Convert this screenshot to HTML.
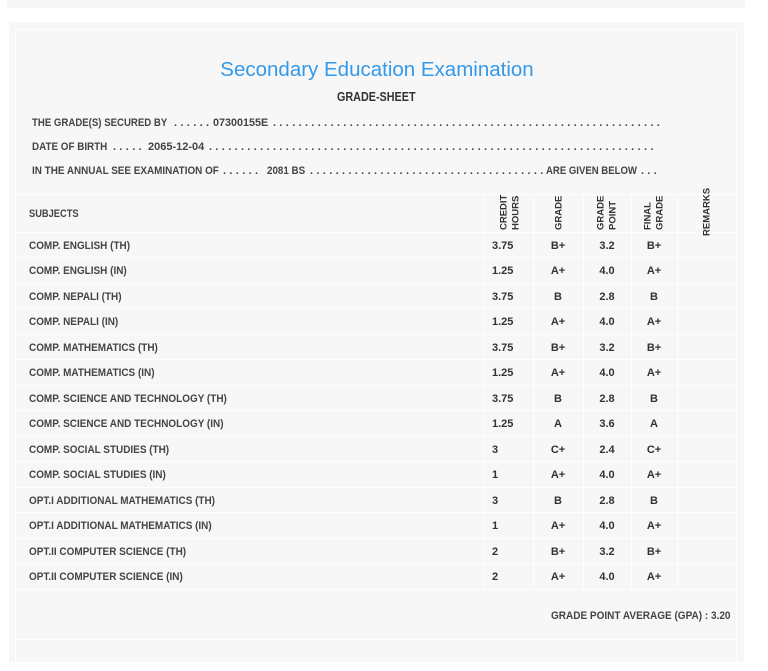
<!DOCTYPE html>
<html>
<head>
<meta charset="utf-8">
<style>
html,body{margin:0;padding:0;background:#fff;}
body{width:768px;height:651px;overflow:hidden;position:relative;font-family:"Liberation Sans",sans-serif;color:#333;}
.a{position:absolute;}
.t{position:absolute;font-size:11px;line-height:12px;font-weight:bold;white-space:pre;color:#444;transform-origin:0 0;}
.d{letter-spacing:3.34px;transform:none;}
.s{transform:scaleX(0.905);}
.n{position:absolute;font-size:11px;line-height:12px;font-weight:bold;white-space:pre;color:#333;}
.c{transform:translateX(-50%);}
.h{position:absolute;left:15px;width:722px;height:1px;background:#fff;}
.v{position:absolute;top:194px;width:1px;height:395px;background:#fff;}
</style>
</head>
<body>
<div class="a" style="left:7px;top:0;width:738px;height:8px;background:#f7f7f7"></div>
<div class="a" style="left:9px;top:22px;width:735px;height:640px;background:#f7f7f7"></div>
<div class="a" style="left:15px;top:29px;width:720px;height:640px;border:1px solid #fff"></div>

<div class="a" style="left:0;width:754px;top:58px;text-align:center;font-size:20.5px;line-height:24px;color:#3399ea;white-space:pre">Secondary Education Examination</div>
<div class="a" style="left:337px;top:90px;font-size:13px;line-height:14px;font-weight:bold;color:#333;white-space:pre;transform:scaleX(0.83);transform-origin:0 0">GRADE-SHEET</div>

<!-- info lines -->
<div class="t" style="left:32px;top:117px;transform:scaleX(0.875)">THE GRADE(S) SECURED BY</div>
<div class="t d" style="left:174px;top:117px">......</div>
<div class="t" style="left:213px;top:117px;transform:scaleX(0.98)">07300155E</div>
<div class="t d" style="left:273px;top:117px">.............................................................</div>

<div class="t" style="left:32px;top:141px;transform:scaleX(0.895)">DATE OF BIRTH</div>
<div class="t d" style="left:113px;top:141px">.....</div>
<div class="t" style="left:148px;top:141px;transform:scaleX(1.0)">2065-12-04</div>
<div class="t d" style="left:209px;top:141px">......................................................................</div>

<div class="t" style="left:32px;top:165px;transform:scaleX(0.9)">IN THE ANNUAL SEE EXAMINATION OF</div>
<div class="t d" style="left:223px;top:165px">......</div>
<div class="t" style="left:267px;top:165px;transform:scaleX(0.89)">2081 BS</div>
<div class="t d" style="left:310px;top:165px">.....................................</div>
<div class="t" style="left:546px;top:165px;transform:scaleX(0.87)">ARE GIVEN BELOW</div>
<div class="t d" style="left:641px;top:165px">...</div>

<!-- table lines -->
<div class="h" style="top:194px"></div>
<div class="h" style="top:232px"></div>
<div class="h" style="top:257px"></div>
<div class="h" style="top:283px"></div>
<div class="h" style="top:308px"></div>
<div class="h" style="top:334px"></div>
<div class="h" style="top:359px"></div>
<div class="h" style="top:385px"></div>
<div class="h" style="top:410px"></div>
<div class="h" style="top:436px"></div>
<div class="h" style="top:461px"></div>
<div class="h" style="top:487px"></div>
<div class="h" style="top:512px"></div>
<div class="h" style="top:538px"></div>
<div class="h" style="top:563px"></div>
<div class="h" style="top:589px"></div>
<div class="h" style="top:639px"></div>
<div class="v" style="left:484px"></div>
<div class="v" style="left:533px"></div>
<div class="v" style="left:583px"></div>
<div class="v" style="left:631px"></div>
<div class="v" style="left:677px"></div>

<div class="t" style="left:29px;top:208px;transform:scaleX(0.845)">SUBJECTS</div>

<svg class="a" style="left:0;top:0" width="768" height="651" xmlns="http://www.w3.org/2000/svg">
<g font-family="Liberation Sans, sans-serif" font-weight="bold" font-size="9.5" fill="#333">
<text transform="translate(506.5,230) rotate(-90)">CREDIT</text>
<text transform="translate(518.5,230) rotate(-90)">HOURS</text>
<text transform="translate(561.5,230) rotate(-90)">GRADE</text>
<text transform="translate(603.5,230) rotate(-90)">GRADE</text>
<text transform="translate(615.5,230) rotate(-90)">POINT</text>
<text transform="translate(650.5,230) rotate(-90)">FINAL</text>
<text transform="translate(662.5,230) rotate(-90)">GRADE</text>
<text transform="translate(709.5,236) rotate(-90)">REMARKS</text>
</g>
</svg>

<!-- rows -->
<div class="t s" style="left:29px;top:240px">COMP. ENGLISH (TH)</div>
<div class="n" style="left:492px;top:240px">3.75</div><div class="n c" style="left:558px;top:240px">B+</div><div class="n c" style="left:607px;top:240px">3.2</div><div class="n c" style="left:654px;top:240px">B+</div>

<div class="t s" style="left:29px;top:265px">COMP. ENGLISH (IN)</div>
<div class="n" style="left:492px;top:265px">1.25</div><div class="n c" style="left:558px;top:265px">A+</div><div class="n c" style="left:607px;top:265px">4.0</div><div class="n c" style="left:654px;top:265px">A+</div>

<div class="t s" style="left:29px;top:291px">COMP. NEPALI (TH)</div>
<div class="n" style="left:492px;top:291px">3.75</div><div class="n c" style="left:558px;top:291px">B</div><div class="n c" style="left:607px;top:291px">2.8</div><div class="n c" style="left:654px;top:291px">B</div>

<div class="t s" style="left:29px;top:316px">COMP. NEPALI (IN)</div>
<div class="n" style="left:492px;top:316px">1.25</div><div class="n c" style="left:558px;top:316px">A+</div><div class="n c" style="left:607px;top:316px">4.0</div><div class="n c" style="left:654px;top:316px">A+</div>

<div class="t s" style="left:29px;top:342px">COMP. MATHEMATICS (TH)</div>
<div class="n" style="left:492px;top:342px">3.75</div><div class="n c" style="left:558px;top:342px">B+</div><div class="n c" style="left:607px;top:342px">3.2</div><div class="n c" style="left:654px;top:342px">B+</div>

<div class="t s" style="left:29px;top:367px">COMP. MATHEMATICS (IN)</div>
<div class="n" style="left:492px;top:367px">1.25</div><div class="n c" style="left:558px;top:367px">A+</div><div class="n c" style="left:607px;top:367px">4.0</div><div class="n c" style="left:654px;top:367px">A+</div>

<div class="t s" style="left:29px;top:393px">COMP. SCIENCE AND TECHNOLOGY (TH)</div>
<div class="n" style="left:492px;top:393px">3.75</div><div class="n c" style="left:558px;top:393px">B</div><div class="n c" style="left:607px;top:393px">2.8</div><div class="n c" style="left:654px;top:393px">B</div>

<div class="t s" style="left:29px;top:418px">COMP. SCIENCE AND TECHNOLOGY (IN)</div>
<div class="n" style="left:492px;top:418px">1.25</div><div class="n c" style="left:558px;top:418px">A</div><div class="n c" style="left:607px;top:418px">3.6</div><div class="n c" style="left:654px;top:418px">A</div>

<div class="t s" style="left:29px;top:444px">COMP. SOCIAL STUDIES (TH)</div>
<div class="n" style="left:492px;top:444px">3</div><div class="n c" style="left:558px;top:444px">C+</div><div class="n c" style="left:607px;top:444px">2.4</div><div class="n c" style="left:654px;top:444px">C+</div>

<div class="t s" style="left:29px;top:469px">COMP. SOCIAL STUDIES (IN)</div>
<div class="n" style="left:492px;top:469px">1</div><div class="n c" style="left:558px;top:469px">A+</div><div class="n c" style="left:607px;top:469px">4.0</div><div class="n c" style="left:654px;top:469px">A+</div>

<div class="t s" style="left:29px;top:495px">OPT.I ADDITIONAL MATHEMATICS (TH)</div>
<div class="n" style="left:492px;top:495px">3</div><div class="n c" style="left:558px;top:495px">B</div><div class="n c" style="left:607px;top:495px">2.8</div><div class="n c" style="left:654px;top:495px">B</div>

<div class="t s" style="left:29px;top:520px">OPT.I ADDITIONAL MATHEMATICS (IN)</div>
<div class="n" style="left:492px;top:520px">1</div><div class="n c" style="left:558px;top:520px">A+</div><div class="n c" style="left:607px;top:520px">4.0</div><div class="n c" style="left:654px;top:520px">A+</div>

<div class="t s" style="left:29px;top:546px">OPT.II COMPUTER SCIENCE (TH)</div>
<div class="n" style="left:492px;top:546px">2</div><div class="n c" style="left:558px;top:546px">B+</div><div class="n c" style="left:607px;top:546px">3.2</div><div class="n c" style="left:654px;top:546px">B+</div>

<div class="t s" style="left:29px;top:571px">OPT.II COMPUTER SCIENCE (IN)</div>
<div class="n" style="left:492px;top:571px">2</div><div class="n c" style="left:558px;top:571px">A+</div><div class="n c" style="left:607px;top:571px">4.0</div><div class="n c" style="left:654px;top:571px">A+</div>

<div class="t" style="left:551px;top:610px;transform:scaleX(0.91)">GRADE POINT AVERAGE (GPA) : 3.20</div>
</body>
</html>
